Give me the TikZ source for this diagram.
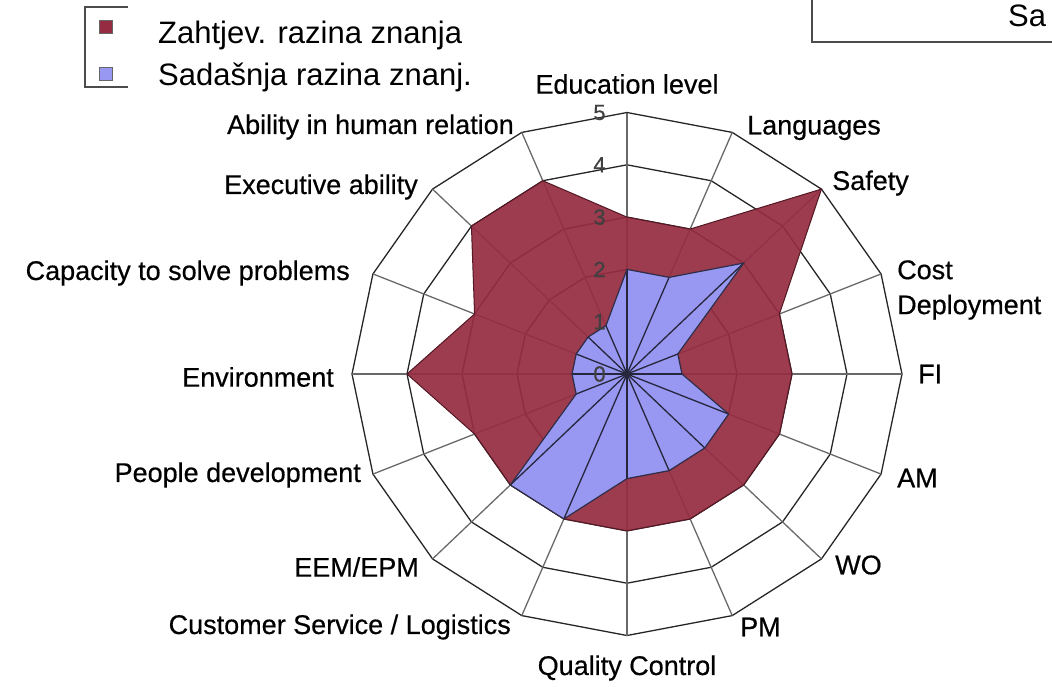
\documentclass[tikz,border=0pt]{standalone}
\usepackage{fontspec}
\setmainfont{Liberation Sans}
\newfontfamily\chartfont[FakeBold=0.5]{Liberation Sans}

\definecolor{reqred}{RGB}{150,44,66}
\definecolor{curblue}{RGB}{152,152,242}
\definecolor{gridgray}{RGB}{105,105,105}

\tikzset{
  ring/.style={line width=1.3pt, black!85},
  spoke/.style={line width=1.3pt, gridgray},
  redline/.style={line width=1pt, reqred!55!black},
  blueline/.style={line width=1.2pt, curblue!30!black},
  axlabel/.style={font=\chartfont\fontsize{27}{35}\selectfont, inner sep=0pt, align=left},
  scalelabel/.style={font=\chartfont\fontsize{22}{22}\selectfont, text=black!75, inner sep=0pt},
  legtext/.style={font=\fontsize{31}{34}\selectfont, anchor=base west, inner sep=0pt},
  frameline/.style={line width=1.5pt, black!70}
}

\begin{document}
\begin{tikzpicture}[x=1pt,y=-1pt]
\useasboundingbox (0,0) rectangle (1052,686);
\clip (0,0) rectangle (1052,686);

\begin{scope}[shift={(627,374)},x=55pt,y=52.3pt]
  \coordinate (c) at (0,0);
  \foreach \i in {0,...,15}
    \coordinate (t\i) at ({90-22.5*\i}:5);
  \foreach \v [count=\i from 0] in {3,3,5,3,3,3,3,3,3,3,3,3,4,3,4,4}
    \coordinate (r\i) at ({90-22.5*\i}:\v);
  \foreach \v [count=\i from 0] in {2,2,3,1,1,2,2,2,2,3,3,1,1,1,1,1}
    \coordinate (b\i) at ({90-22.5*\i}:\v);

  \foreach \k in {1,...,5}
    \draw[ring] (90:\k) \foreach \i in {1,...,15}{ -- ({90-22.5*\i}:\k)} -- cycle;
  \foreach \i in {0,...,15}
    \draw[spoke] (c) -- (t\i);

  \fill[reqred, fill opacity=0.93] (r0) \foreach \i in {1,...,15}{ -- (r\i)} -- cycle;
  \draw[redline] (r0) \foreach \i in {1,...,15}{ -- (r\i)} -- cycle;

  \fill[curblue] (b0) \foreach \i in {1,...,15}{ -- (b\i)} -- cycle;
  \begin{scope}
    \clip (b0) \foreach \i in {1,...,15}{ -- (b\i)} -- cycle;
    \foreach \i in {0,...,15}
      \draw[line width=1.3pt, curblue!25!black] (c) -- (t\i);
  \end{scope}
  \draw[blueline] (b0) \foreach \i in {1,...,15}{ -- (b\i)} -- cycle;

  \foreach \k in {0,...,5}
    \node[scalelabel] (s\k) at (-0.5,\k) {\k};
\end{scope}

\node[axlabel] (l0) at (627,84) {Education level};
\node[axlabel, anchor=west] (l1) at (747,128) {Languages};
\node[axlabel, anchor=west] (l2) at (832,183) {Safety};
\node[axlabel, anchor=west] (l3) at (897,290) {Cost\\Deployment};
\node[axlabel, anchor=west] (l4) at (918,374) {FI};
\node[axlabel, anchor=west] (l5) at (897,478) {AM};
\node[axlabel, anchor=west] (l6) at (835,565) {WO};
\node[axlabel, anchor=west] (l7) at (740,627) {PM};
\node[axlabel] (l8) at (627,668) {Quality Control};
\node[axlabel, anchor=east] (l9) at (511,627) {Customer Service / Logistics};
\node[axlabel, anchor=east] (l10) at (419,567) {EEM/EPM};
\node[axlabel, anchor=east] (l11) at (361,475) {People development};
\node[axlabel, anchor=east] (l12) at (334,377) {Environment};
\node[axlabel, anchor=east] (l13) at (350,273) {Capacity to solve problems};
\node[axlabel, anchor=east] (l14) at (418,187) {Executive ability};
\node[axlabel, anchor=east] (l15) at (514,127) {Ability in human relation};

\draw[frameline] (128,7) -- (85,7) -- (85,87) -- (128,87);
\filldraw[fill=reqred, draw=black!60] (99,20) rectangle (112,33);
\filldraw[fill=curblue, draw=black!60] (99,67) rectangle (112,80);
\node[legtext] (leg1) at (158,43) {Zahtjev. razina znanja};
\node[legtext] (leg2) at (158,85) {Sadašnja razina znanj.};

\draw[frameline] (812,-5) -- (812,42) -- (1060,42);
\node[legtext] (sa) at (1008,26) {Sa};
\end{tikzpicture}
\end{document}
